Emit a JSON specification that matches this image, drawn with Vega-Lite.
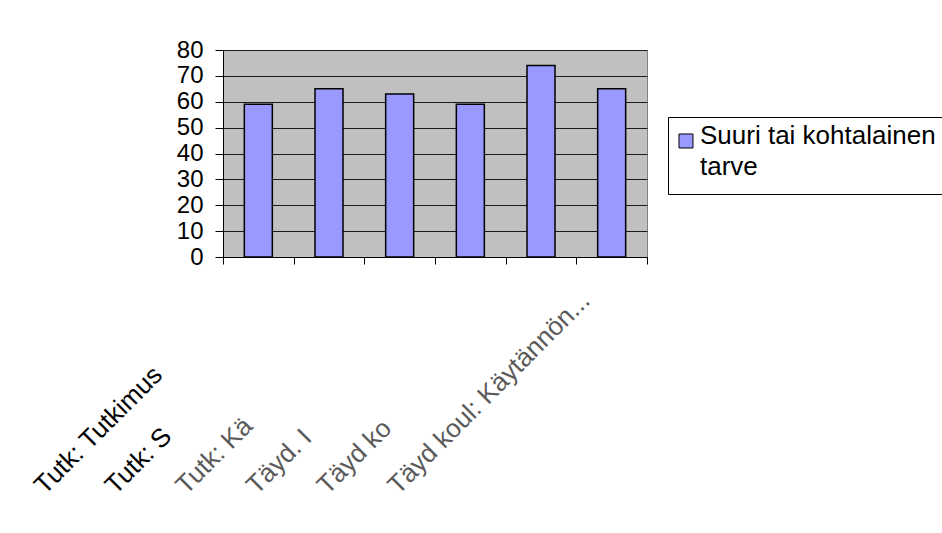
{
  "$schema": "https://vega.github.io/schema/vega-lite/v6.json",
  "width": 424,
  "height": 207,
  "autosize": {"type": "none"},
  "padding": {"left": 223, "top": 50, "right": 295, "bottom": 276},
  "background": "white",
  "data": {
    "values": [
      {"category": "Tutk: Tutkimus", "series": "Suuri tai kohtalainen tarve", "value": 59},
      {"category": "Tutk: S", "series": "Suuri tai kohtalainen tarve", "value": 65},
      {"category": "Tutk: Kä", "series": "Suuri tai kohtalainen tarve", "value": 63},
      {"category": "Täyd. I", "series": "Suuri tai kohtalainen tarve", "value": 59},
      {"category": "Täyd ko", "series": "Suuri tai kohtalainen tarve", "value": 74},
      {"category": "Täyd koul: Käytännön...", "series": "Suuri tai kohtalainen tarve", "value": 65}
    ]
  },
  "mark": {"type": "bar", "size": 28, "stroke": "#000000", "strokeWidth": 1.5},
  "encoding": {
    "x": {
      "field": "category",
      "type": "nominal",
      "sort": null,
      "scale": {"paddingInner": 0, "paddingOuter": 0},
      "axis": {
        "title": null,
        "tickBand": "extent",
        "labelAngle": -45,
        "labelAlign": "left",
        "labelBaseline": "alphabetic",
        "labelOffset": -214,
        "labelPadding": 231,
        "labelFont": "Liberation Sans",
        "labelFontSize": 26,
        "labelLimit": 1000,
        "labelOverlap": false,
        "labelColor": {"condition": {"test": "datum.value === 'Tutk: Tutkimus' || datum.value === 'Tutk: S'", "value": "#000000"}, "value": "#5a5a5a"},
        "tickSize": 7,
        "tickColor": "#000000",
        "domainColor": "#000000",
        "grid": false
      }
    },
    "y": {
      "field": "value",
      "type": "quantitative",
      "scale": {"domain": [0, 80], "nice": false},
      "axis": {
        "title": null,
        "values": [0, 10, 20, 30, 40, 50, 60, 70, 80],
        "labelFont": "Liberation Sans",
        "labelFontSize": 24,
        "labelColor": "#000000",
        "labelPadding": 12,
        "tickSize": 8,
        "tickColor": "#000000",
        "domainColor": "#000000",
        "grid": true,
        "gridColor": "#1a1a1a"
      }
    },
    "color": {
      "field": "series",
      "type": "nominal",
      "scale": {"range": ["#9999FF"]},
      "legend": {
        "title": null,
        "orient": "none",
        "legendX": 445,
        "legendY": 67,
        "labelExpr": "['Suuri tai kohtalainen', 'tarve']",
        "labelFont": "Liberation Sans",
        "labelFontSize": 26,
        "labelColor": "#000000",
        "labelLimit": 1000,
        "labelOffset": -8,
        "labelBaseline": "alphabetic",
        "symbolType": "M-2.29,-1.43H-0.29V0.57H-2.29Z",
        "symbolSize": 196,
        "symbolStrokeColor": "#000000",
        "symbolStrokeWidth": 1,
        "strokeColor": "#000000",
        "fillColor": "#ffffff",
        "padding": 14,
        "cornerRadius": 0
      }
    }
  },
  "config": {
    "view": {"fill": "#C0C0C0", "stroke": "#808080"},
    "style": {"guide-label": {"lineHeight": 31}}
  }
}
